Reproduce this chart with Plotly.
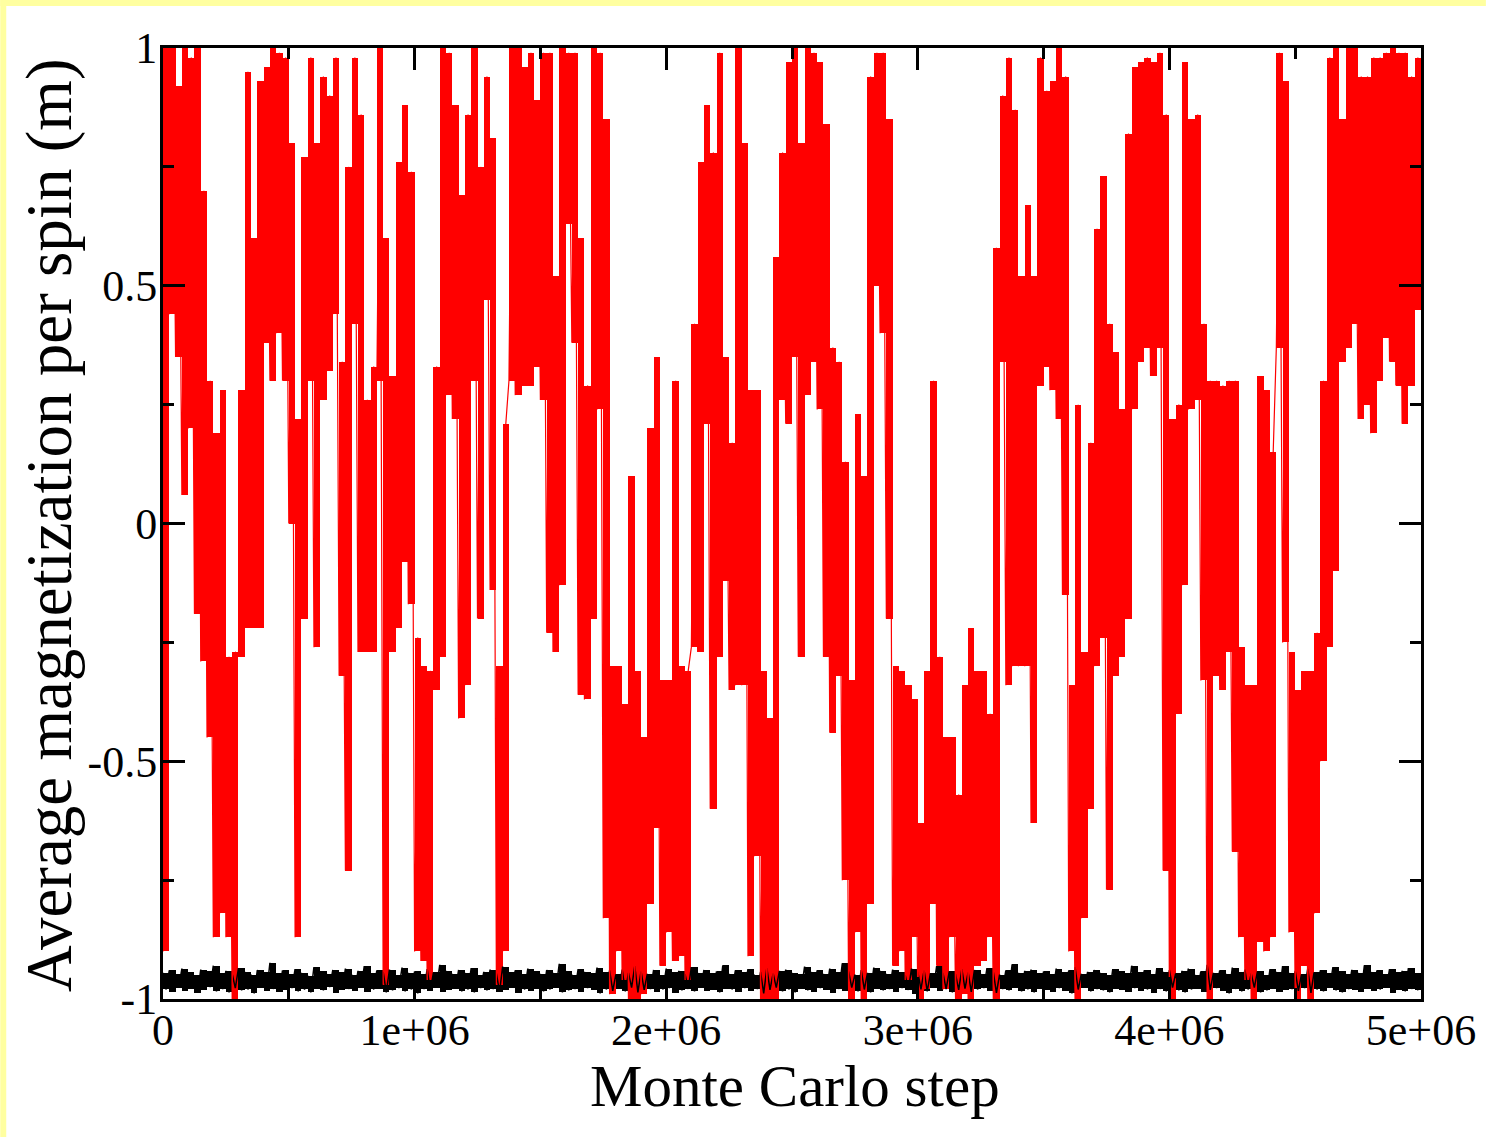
import plotly.graph_objects as go

# Monte Carlo time series, one (low, high) pair per block of 25,000 steps
STEP = 25000

red_lo = [
    -0.9, 0.44, 0.35, 0.06, 0.2, -0.19, -0.29, -0.45, -0.87, -0.82,
    -0.87, -1.0, -0.28, -0.22, -0.22, -0.22, 0.38, 0.3, 0.4, 0.3,
    0.0, -0.87, -0.2, 0.3, -0.26, 0.26, 0.32, 0.44, -0.32, -0.73,
    0.42, -0.27, -0.27, -0.27, 0.3, -0.97, -0.27, -0.22, -0.08, -0.17,
    -0.9, -0.92, -0.96, -0.35, -0.28, 0.27, 0.22, -0.41, -0.34, 0.3,
    -0.2, 0.47, -0.14, -0.97, -0.9, 0.3, 0.27, 0.29, 0.29, 0.33,
    0.26, -0.23, -0.27, -0.13, 0.63, 0.38, -0.36, -0.37, -0.2, 0.24,
    -0.83, -0.99, -0.9, -0.96, -1.0, -1.0, -0.99, -0.8, -0.64, -0.93,
    -0.86, -0.92, -0.91, -0.96, -0.26, -0.27, 0.21, -0.6, -0.28, -0.12,
    -0.35, -0.34, -0.34, -0.91, -0.7, -1.0, -1.0, -1.0, 0.26, 0.21,
    0.35, -0.28, 0.27, 0.34, 0.24, -0.28, -0.44, -0.32, -0.75, -1.0,
    -0.86, -1.0, -0.8, 0.5, 0.4, -0.2, -0.93, -0.9, -0.96, -0.87,
    -1.0, -0.98, -0.8, -0.93, -0.98, -0.87, -1.0, -0.99, -1.0, -0.93,
    -0.92, -0.87, -1.0, 0.34, -0.34, -0.3, -0.3, -0.3, -0.63, 0.29,
    0.33, 0.28, 0.22, -0.15, -0.9, -1.0, -0.83, -0.6, -0.3, -0.24,
    -0.77, -0.32, -0.28, -0.2, 0.24, 0.34, 0.37, 0.31, 0.37, -0.73,
    -1.0, -0.4, -0.13, 0.24, 0.26, -0.33, -1.0, -0.32, -0.35, -0.27,
    -0.69, -0.87, -0.96, -1.0, -0.88, -0.9, -0.87, 0.37, -0.25, -0.86,
    -1.0, -0.93, -1.0, -0.82, -0.5, -0.26, -0.1, 0.34, 0.37, 0.42,
    0.22, 0.25, 0.19, 0.3, 0.39, 0.34, 0.29, 0.21, 0.29, 0.45,
]

red_hi = [
    1.0, 1.0, 0.92, 1.0, 0.98, 1.0, 0.7, 0.3, 0.19, 0.28,
    -0.28, -0.27, 0.28, 0.95, 0.6, 0.93, 0.96, 1.0, 0.99, 0.98,
    0.8, 0.22, 0.77, 0.98, 0.8, 0.94, 0.9, 0.98, 0.34, 0.75,
    0.98, 0.86, 0.26, 0.33, 1.0, 0.6, 0.31, 0.76, 0.88, 0.74,
    -0.24, -0.3, -0.31, 0.33, 1.0, 0.99, 0.88, 0.69, 0.86, 1.0,
    0.75, 0.94, 0.81, -0.3, 0.21, 1.0, 1.0, 0.96, 0.99, 0.89,
    0.99, 0.99, 0.52, 1.0, 0.99, 0.99, 0.6, 0.29, 1.0, 0.99,
    0.85, -0.3, -0.3, -0.38, 0.1, -0.31, -0.45, 0.2, 0.35, -0.33,
    -0.33, 0.3, -0.3, -0.31, 0.42, 0.76, 0.88, 0.78, 0.99, 0.35,
    0.17, 1.0, 0.8, 0.28, 0.28, -0.31, -0.41, 0.56, 0.78, 0.97,
    1.0, 0.8, 1.0, 0.99, 0.97, 0.84, 0.37, 0.34, 0.13, -0.33,
    0.23, 0.1, 0.94, 0.99, 0.99, 0.85, -0.3, -0.31, -0.34, -0.37,
    -0.63, -0.31, 0.3, -0.28, -0.45, -0.45, -0.57, -0.34, -0.22, -0.31,
    -0.31, -0.4, 0.58, 0.9, 0.98, 0.87, 0.52, 0.67, 0.52, 0.98,
    0.91, 0.93, 1.0, 0.94, -0.34, 0.25, -0.27, 0.17, 0.62, 0.73,
    0.42, 0.36, 0.24, 0.82, 0.96, 0.97, 0.98, 0.97, 0.99, 0.86,
    0.22, 0.25, 0.97, 0.85, 0.86, 0.42, 0.3, 0.3, 0.29, 0.3,
    0.3, -0.26, -0.34, -0.34, 0.31, 0.28, 0.15, 0.99, 0.93, -0.27,
    -0.35, -0.31, -0.31, -0.23, 0.3, 0.98, 1.0, 0.85, 1.0, 1.0,
    0.94, 0.94, 0.98, 0.98, 0.99, 1.0, 0.99, 0.99, 0.94, 0.98,
]

# Reference run that stays in the ordered state near m = -0.96
black_hi = [
    -0.945, -0.940, -0.948, -0.936, -0.944, -0.950, -0.938, -0.942, -0.930, -0.946,
    -0.941, -0.947, -0.935, -0.943, -0.949, -0.939, -0.944, -0.924, -0.946, -0.940,
    -0.948, -0.937, -0.945, -0.951, -0.933, -0.942, -0.947, -0.939, -0.944, -0.936,
    -0.949, -0.941, -0.931, -0.946, -0.940, -0.943, -0.938, -0.950, -0.934, -0.945,
    -0.942, -0.948, -0.937, -0.944, -0.928, -0.941, -0.947, -0.939, -0.945, -0.935,
    -0.950, -0.943, -0.938, -0.946, -0.932, -0.944, -0.940, -0.948, -0.936, -0.942,
    -0.947, -0.939, -0.945, -0.926, -0.941, -0.949, -0.937, -0.943, -0.946, -0.934,
    -0.944, -0.940, -0.948, -0.938, -0.945, -0.931, -0.942, -0.947, -0.939, -0.950,
    -0.936, -0.944, -0.941, -0.948, -0.933, -0.945, -0.939, -0.946, -0.942, -0.929,
    -0.947, -0.940, -0.944, -0.937, -0.949, -0.943, -0.935, -0.946, -0.941, -0.938,
    -0.945, -0.948, -0.932, -0.943, -0.940, -0.947, -0.936, -0.944, -0.925, -0.942,
    -0.949, -0.939, -0.945, -0.934, -0.941, -0.947, -0.938, -0.944, -0.950, -0.936,
    -0.943, -0.940, -0.946, -0.931, -0.945, -0.942, -0.948, -0.937, -0.944, -0.939,
    -0.947, -0.935, -0.943, -0.949, -0.940, -0.927, -0.945, -0.941, -0.938, -0.946,
    -0.942, -0.948, -0.936, -0.944, -0.940, -0.933, -0.947, -0.943, -0.939, -0.945,
    -0.950, -0.937, -0.942, -0.946, -0.930, -0.944, -0.940, -0.948, -0.935, -0.943,
    -0.939, -0.946, -0.941, -0.936, -0.949, -0.942, -0.928, -0.945, -0.940, -0.947,
    -0.934, -0.944, -0.938, -0.946, -0.942, -0.950, -0.937, -0.943, -0.931, -0.945,
    -0.941, -0.948, -0.936, -0.944, -0.940, -0.946, -0.933, -0.942, -0.947, -0.939,
    -0.945, -0.929, -0.943, -0.940, -0.948, -0.937, -0.944, -0.941, -0.935, -0.946,
]

black_lo = [
    -0.980, -0.985, -0.976, -0.983, -0.978, -0.987, -0.981, -0.975, -0.984, -0.979,
    -0.986, -0.977, -0.982, -0.980, -0.988, -0.976, -0.983, -0.979, -0.985, -0.981,
    -0.977, -0.984, -0.980, -0.986, -0.978, -0.982, -0.975, -0.987, -0.981, -0.979,
    -0.983, -0.976, -0.985, -0.980, -0.978, -0.986, -0.982, -0.977, -0.984, -0.980,
    -0.988, -0.979, -0.983, -0.976, -0.985, -0.981, -0.978, -0.984, -0.980, -0.986,
    -0.977, -0.982, -0.979, -0.985, -0.981, -0.976, -0.987, -0.980, -0.983, -0.978,
    -0.984, -0.980, -0.976, -0.986, -0.982, -0.979, -0.985, -0.977, -0.981, -0.988,
    -0.980, -0.983, -0.978, -0.984, -0.976, -0.986, -0.981, -0.979, -0.985, -0.980,
    -0.977, -0.987, -0.982, -0.979, -0.984, -0.976, -0.983, -0.981, -0.986, -0.978,
    -0.980, -0.985, -0.977, -0.983, -0.979, -0.988, -0.981, -0.976, -0.984, -0.980,
    -0.986, -0.978, -0.982, -0.985, -0.977, -0.981, -0.987, -0.979, -0.983, -0.976,
    -0.984, -0.980, -0.986, -0.978, -0.982, -0.979, -0.985, -0.977, -0.981, -0.989,
    -0.980, -0.984, -0.976, -0.983, -0.979, -0.986, -0.981, -0.978, -0.985, -0.980,
    -0.977, -0.983, -0.987, -0.979, -0.982, -0.976, -0.984, -0.980, -0.986, -0.978,
    -0.981, -0.985, -0.977, -0.983, -0.988, -0.980, -0.976, -0.984, -0.979, -0.982,
    -0.986, -0.978, -0.981, -0.985, -0.977, -0.983, -0.980, -0.987, -0.979, -0.984,
    -0.976, -0.982, -0.986, -0.980, -0.978, -0.985, -0.981, -0.977, -0.983, -0.988,
    -0.979, -0.984, -0.980, -0.976, -0.986, -0.982, -0.978, -0.985, -0.981, -0.979,
    -0.983, -0.977, -0.987, -0.980, -0.984, -0.976, -0.982, -0.986, -0.979, -0.981,
    -0.985, -0.978, -0.983, -0.980, -0.976, -0.987, -0.981, -0.984, -0.979, -0.982,
]

x_tickvals = [0, 1e6, 2e6, 3e6, 4e6, 5e6]
x_ticktext = ["0", "1e+06", "2e+06", "3e+06", "4e+06", "5e+06"]
x_minor = [5e5, 1.5e6, 2.5e6, 3.5e6, 4.5e6]
y_tickvals = [-1, -0.5, 0, 0.5, 1]
y_ticktext = ["-1", "-0.5", "0", "0.5", "1"]
y_minor = [-0.75, -0.25, 0.25, 0.75]


def zigzag(first, second):
    """Alternate between two per-block extremes to trace the fluctuating signal."""
    xs, ys = [], []
    for i, (a, b) in enumerate(zip(first, second)):
        xs += [i * STEP, i * STEP + STEP / 2]
        ys += [a, b]
    return xs, ys


def block_range(lo, hi):
    """Block centres, spans and bases for the filled min/max columns."""
    centres = [i * STEP + STEP / 2 for i in range(len(lo))]
    spans = [h - l for l, h in zip(lo, hi)]
    return centres, spans, list(lo)


W, H = 1488, 1137
L, R, T, B = 163, 65, 48, 138
PW, PH = W - L - R, H - T - B


def px(x):
    return (x - L) / PW


def py(y):
    return (H - B - y) / PH


FONT = "Liberation Serif, Times New Roman, serif"

fig = go.Figure()

# black run: solid noisy band
bc, bs, bb = block_range(black_lo, black_hi)
fig.add_trace(go.Bar(x=bc, y=bs, base=bb, width=STEP,
                     marker=dict(color="black", line=dict(width=0)), showlegend=False))
bx, by = zigzag(black_hi, black_lo)
fig.add_trace(go.Scatter(x=bx, y=by, mode="lines",
                         line=dict(color="black", width=1.5), showlegend=False))

# red run: filled fluctuation columns joined by the raw trace
rc, rs, rb = block_range(red_lo, red_hi)
fig.add_trace(go.Bar(x=rc, y=rs, base=rb, width=STEP,
                     marker=dict(color="#ff0000", line=dict(width=0)), showlegend=False))
rx, ry = zigzag(red_lo, red_hi)
fig.add_trace(go.Scatter(x=rx, y=ry, mode="lines",
                         line=dict(color="#ff0000", width=1.2), showlegend=False))

axis_common = dict(
    showgrid=False, zeroline=False,
    showline=True, linecolor="black", linewidth=3, mirror="allticks",
    ticks="inside", ticklen=22, tickwidth=2.5, tickcolor="black",
    tickfont=dict(family=FONT, size=44, color="black"),
    tickmode="array",
)

fig.update_xaxes(
    **axis_common, range=[0, 5e6], tickvals=x_tickvals, ticktext=x_ticktext,
    ticklabelstandoff=-10,
    minor=dict(tickvals=x_minor, ticks="inside", ticklen=11, tickwidth=2.5, tickcolor="black"),
)
fig.update_yaxes(
    **axis_common, range=[-1, 1], tickvals=y_tickvals, ticktext=y_ticktext,
    ticklabelstandoff=-6,
    minor=dict(tickvals=y_minor, ticks="inside", ticklen=11, tickwidth=2.5, tickcolor="black"),
)

# pale yellow frame along the left and top page edges
frame = "#ffffa0"
shapes = [
    dict(type="rect", xref="paper", yref="paper", x0=px(0), x1=px(6), y0=py(H), y1=py(0),
         fillcolor=frame, line=dict(width=0), layer="below"),
    dict(type="rect", xref="paper", yref="paper", x0=px(0), x1=px(W), y0=py(6), y1=py(0),
         fillcolor=frame, line=dict(width=0), layer="below"),
]

annotations = [
    dict(text="Monte Carlo step", xref="paper", yref="paper", x=px(796), y=py(1086),
         xanchor="center", yanchor="middle", showarrow=False,
         font=dict(family=FONT, size=59, color="black")),
    dict(text="Average magnetization per spin (m)", xref="paper", yref="paper",
         x=px(49), y=py(525), xanchor="center", yanchor="middle", textangle=-90,
         showarrow=False, font=dict(family=FONT, size=65, color="black")),
]

fig.update_layout(
    width=W, height=H,
    margin=dict(l=L, r=R, t=T, b=B, pad=0),
    paper_bgcolor="white", plot_bgcolor="white",
    barmode="overlay", bargap=0,
    shapes=shapes, annotations=annotations,
    showlegend=False,
)

fig.write_html("out.html")
